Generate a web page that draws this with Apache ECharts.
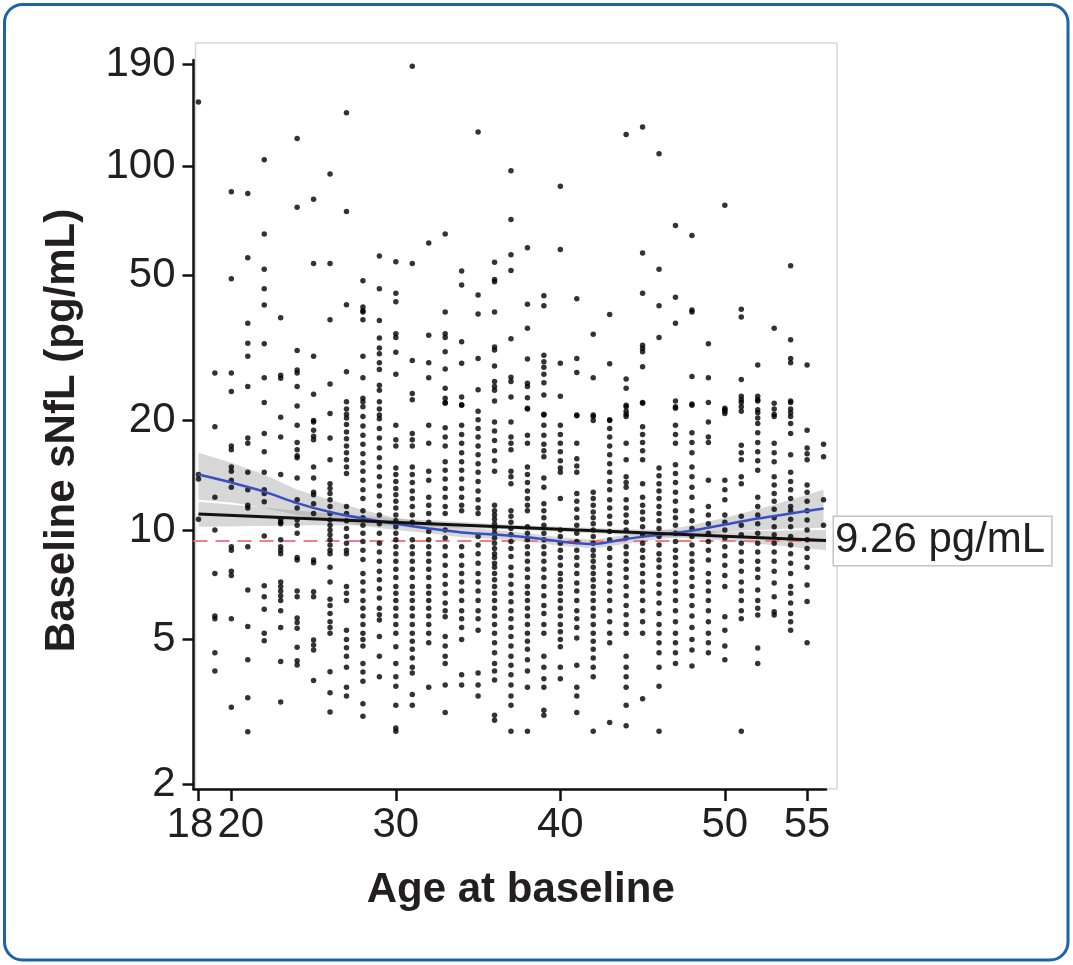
<!DOCTYPE html>
<html>
<head>
<meta charset="utf-8">
<script src="https://cdn.jsdelivr.net/npm/echarts@6/dist/echarts.min.js"></script>
<style>html,body{margin:0;padding:0;background:#fff;}#c{width:1073px;height:965px;}</style>
</head>
<body>
<div id="c"></div>
<script>
// ---- data (sNfL in pg/mL by integer age at baseline) ----
const age18 = [150, 14.2, 13.8, 10.7];
const age19 = [27, 19.2, 12.3, 10.0, 7.6, 5.8, 5.7, 4.6, 4.1];
const age20 = [85, 49, 27, 24, 17, 16.6, 14.9, 14.5, 13.7, 13.1, 9.0, 8.8, 7.7, 7.5, 5.7, 3.26];
const age21 = [84, 56, 37, 32.6, 30, 24.8, 17.9, 17.3, 14.4, 12.9, 11.7, 11.5, 9.0, 6.84, 5.43, 4.4, 3.46, 2.79];
const age22 = [104, 65, 52, 46, 41.5, 32.5, 26.2, 22.4, 18.4, 16.4, 14.4, 12.9, 12.6, 11.96, 9.63, 7.03, 6.56, 6.06, 5.2, 4.96];
const age23 = [38.3, 26.6, 26.1, 20.4, 18.0, 14.2, 10.7, 10.5, 10.4, 9.4, 9.0, 8.8, 8.6, 7.2, 7.0, 6.8, 6.6, 6.4, 6.0, 5.4, 4.35, 3.37];
const age24 = [119, 77, 31.1, 27.5, 27.0, 24.8, 21.9, 19.4, 17.4, 16.6, 16.0, 15.8, 13.9, 12.1, 11.5, 10.65, 10.3, 9.8, 8.4, 8.27, 6.8, 6.56, 5.73, 5.57, 5.37, 4.76, 4.37, 4.26];
const age25 = [81, 54, 30, 23.6, 20.0, 19.8, 18.8, 18.1, 17.7, 14.9, 13.9, 12.7, 12.5, 11.8, 11.1, 8.27, 8.13, 6.77, 6.56, 4.99, 4.83, 4.68, 3.86];
const age26 = [95, 54, 37.8, 25.2, 20.9, 17.9, 15.6, 13.4, 13.0, 12.6, 12.1, 11.6, 11.1, 10.65, 10.3, 10.0, 9.7, 9.4, 9.1, 8.8, 8.6, 7.9, 7.2, 6.45, 6.2, 5.9, 5.6, 5.4, 5.2, 4.08, 3.57, 3.16];
const age27 = [140, 75, 41.6, 27.2, 22.5, 21.5, 20.8, 20.3, 19.5, 18.6, 17.8, 17.0, 16.3, 15.6, 14.9, 14.3, 11.6, 11.1, 10.6, 10.1, 9.6, 9.2, 8.8, 8.6, 7.0, 6.7, 6.4, 5.3, 5.0, 4.75, 4.5, 4.2, 3.7, 3.5];
const age28 = [48.4, 41, 40, 39.7, 37.8, 30, 26.2, 23, 22.5, 21.8, 20.5, 19.3, 18.2, 17.2, 16.2, 15.3, 14.5, 13.7, 12.9, 12.2, 11.3, 10.8, 10.3, 9.8, 9.3, 8.8, 8.3, 7.6, 7.2, 6.8, 6.4, 6.1, 5.8, 5.5, 5.2, 5.0, 4.8, 4.3, 4.07, 3.84, 3.33, 3.08];
const age29 = [56.6, 46, 37.6, 33.7, 31.6, 30.5, 28.8, 27.6, 25, 24.2, 22.5, 20.7, 21.5, 20.2, 19.0, 17.9, 16.8, 15.8, 14.9, 14.0, 13.2, 12.4, 11.7, 11.0, 10.4, 9.8, 9.2, 8.7, 8.2, 7.7, 7.3, 6.9, 6.5, 6.1, 5.85, 5.66, 5.1, 4.5, 3.95];
const age30 = [54.6, 44.7, 42.4, 34.6, 33.8, 30.8, 26.8, 19.4, 17.7, 17.0, 14.8, 14.2, 13.6, 13.0, 12.5, 12.0, 11.5, 11.0, 10.6, 10.2, 9.8, 9.4, 9.0, 8.6, 8.2, 7.8, 7.4, 7.0, 6.7, 6.4, 6.1, 5.8, 5.5, 5.2, 4.78, 4.3, 3.95, 3.72, 3.3, 2.86, 2.8];
const age31 = [188, 54, 29.2, 23.7, 22.8, 18.4, 17.7, 17.0, 14.9, 14.2, 13.5, 12.8, 12.2, 11.6, 11.0, 10.5, 9.4, 9.0, 8.6, 8.2, 7.8, 7.4, 7.0, 6.7, 6.4, 6.1, 5.8, 5.5, 5.2, 4.95, 4.7, 4.45, 4.2, 4.05, 3.53, 3.3];
const age32 = [61.4, 34.3, 28.8, 26.2, 19.4, 17.3, 14.5, 13.7, 12.3, 11.7, 11.1, 10.5, 9.9, 9.4, 9.0, 8.6, 8.2, 7.8, 7.4, 7.0, 6.7, 6.4, 6.1, 5.8, 5.5, 5.2, 4.9, 3.7];
const age33 = [65, 39.7, 34.6, 33.8, 30.9, 27.7, 24.5, 23, 22.4, 22.3, 19.1, 18.0, 17.0, 15.4, 14.6, 13.8, 13.0, 12.3, 11.6, 11.1, 10.0, 9.5, 9.0, 8.5, 8.0, 7.5, 7.1, 6.7, 6.3, 6.0, 5.78, 5.1, 4.8, 4.5, 4.3, 3.75, 3.15];
const age34 = [51.5, 47.1, 32.9, 28.7, 23.2, 22.1, 22, 19.4, 18.3, 17.3, 16.3, 15.4, 14.6, 13.8, 13.0, 12.3, 11.7, 11.3, 9.0, 8.5, 8.0, 7.6, 7.2, 6.8, 6.4, 6.0, 5.7, 5.4, 5.0, 4.0, 3.75];
const age35 = [124, 44.2, 39.2, 29.6, 24.3, 21.2, 20.1, 19.0, 18.0, 17.0, 16.1, 15.2, 14.4, 13.6, 12.8, 12.1, 11.5, 11.1, 9.6, 9.1, 8.6, 8.1, 7.6, 7.2, 6.8, 6.4, 6.0, 5.7, 5.3, 4.05, 3.75, 3.5];
const age36 = [54.4, 48.8, 48.1, 39.7, 31.8, 31.2, 28.2, 25.6, 24.8, 24.2, 22.6, 19.8, 18.7, 17.6, 16.5, 15.5, 14.5, 11.7, 11.3, 11.0, 10.7, 10.4, 10.1, 9.8, 9.5, 9.2, 8.9, 8.6, 8.4, 8.1, 7.9, 7.6, 7.3, 7.0, 6.7, 6.4, 6.1, 5.8, 5.5, 5.2, 4.9, 4.6, 4.3, 4.1, 3.87, 3.1, 3.0];
const age37 = [97, 71.3, 57, 51.6, 33.5, 26.3, 25.6, 23.2, 19.8, 18.0, 17.3, 16.6, 14.5, 14.0, 13.4, 11.3, 10.9, 10.5, 10.1, 9.7, 9.3, 8.9, 8.45, 7.9, 7.5, 7.1, 6.7, 6.35, 6.0, 5.7, 5.4, 5.1, 4.8, 4.5, 4.25, 4.0, 3.75, 3.5, 3.3, 2.8];
const age38 = [59.6, 41.7, 35.8, 29.5, 25.3, 24.8, 23.1, 21.5, 21.6, 18.2, 17.3, 14.9, 14.2, 13.5, 12.8, 12.2, 11.7, 11.3, 10.2, 9.8, 9.4, 9.0, 8.6, 8.2, 7.8, 7.4, 7.0, 6.7, 6.4, 6.1, 5.8, 5.5, 5.2, 4.95, 4.7, 4.4, 4.1, 3.7, 2.8];
const age39 = [44, 41.3, 30.2, 29, 28, 26.8, 25.4, 23.5, 20.8, 20.7, 19.4, 18.2, 17.2, 16.5, 15.9, 13.9, 13.1, 11.8, 11.3, 10.8, 10.3, 9.8, 9.4, 9.0, 8.6, 8.2, 7.8, 7.4, 7.0, 6.6, 6.2, 5.9, 5.5, 5.2, 4.5, 4.2, 3.9, 3.7, 3.2, 3.1];
const age40 = [88, 59, 28.7, 23.3, 19.4, 18.3, 17.3, 16.4, 15.5, 14.8, 14.4, 12.2, 10.0, 9.6, 9.2, 8.8, 8.4, 8.0, 7.6, 7.3, 7.0, 6.7, 6.4, 6.1, 5.8, 5.5, 5.25, 5.0, 4.78, 4.2, 3.9];
const age41 = [43.2, 29.6, 27.1, 20.6, 20.7, 17.3, 15.7, 15.0, 14.4, 12.6, 12.0, 11.4, 10.8, 10.3, 9.8, 9.3, 8.8, 8.4, 8.0, 7.6, 7.15, 6.8, 6.4, 6.0, 5.7, 5.4, 5.05, 4.25, 3.7, 3.5, 3.15];
const age42 = [34.5, 26.2, 20.5, 20.7, 20.0, 12.7, 12.2, 11.7, 11.2, 10.8, 10.4, 10.0, 9.6, 9.2, 8.8, 8.5, 8.2, 7.9, 7.6, 7.3, 7.0, 6.7, 6.4, 6.1, 5.8, 5.5, 5.2, 4.95, 4.7, 4.45, 4.2, 3.95, 2.8];
const age43 = [39.1, 28.6, 20.1, 20.0, 19.0, 18.0, 17.0, 16.1, 15.2, 14.4, 13.6, 12.9, 12.1, 11.5, 10.9, 10.4, 9.9, 9.4, 8.9, 8.4, 8.0, 7.6, 7.2, 6.8, 6.4, 6.0, 5.6, 5.2, 4.9, 2.96];
const age44 = [122, 26, 24.5, 21.8, 20.8, 22, 21.2, 20.5, 17.3, 15.6, 14.0, 13.5, 13.1, 12.1, 11.5, 11.0, 10.5, 10.0, 9.5, 9.0, 8.6, 8.2, 7.8, 7.4, 7.0, 6.6, 6.2, 5.85, 5.5, 5.2, 4.5, 4.2, 3.95, 3.7, 3.3, 2.9];
const age45 = [128, 57.7, 44.7, 32.2, 31.5, 30.9, 28.1, 22.4, 22.3, 19.2, 18.3, 17.4, 16.5, 15.6, 13.4, 12.3, 11.7, 11.2, 10.7, 10.2, 9.7, 9.2, 8.8, 8.4, 8.0, 7.6, 7.2, 6.8, 6.4, 6.0, 5.6, 5.2, 3.44];
const age46 = [108, 52, 41.3, 33.8, 14.8, 14.1, 13.4, 12.8, 12.2, 11.6, 11.1, 10.6, 10.1, 9.6, 9.1, 8.6, 8.27, 7.9, 7.5, 7.1, 6.7, 6.3, 5.9, 5.5, 5.2, 4.9, 4.6, 4.2, 3.72, 2.8];
const age47 = [68.6, 43.6, 37, 22.6, 21.6, 21.8, 19.4, 18.3, 17.3, 15.1, 14.3, 13.5, 12.7, 12.0, 11.3, 10.8, 10.3, 9.8, 9.3, 8.8, 8.4, 8.0, 7.6, 7.2, 6.8, 6.4, 6.0, 5.6, 5.2, 4.9, 4.6, 4.3];
const age48 = [64.4, 40.2, 39.7, 26.4, 22, 22.2, 18.5, 17.4, 16.3, 14.9, 14.0, 13.1, 12.3, 11.3, 10.6, 10.1, 9.6, 9.1, 8.6, 8.2, 7.8, 7.4, 7.0, 6.6, 6.2, 5.8, 5.4, 5.0, 4.68, 4.23];
const age49 = [32.5, 26.2, 22.4, 19.8, 18.0, 17.4, 13.7, 11.6, 11.0, 10.4, 9.8, 9.3, 8.8, 8.27, 7.6, 7.2, 6.8, 6.4, 6.0, 5.6, 5.2, 4.9, 4.6];
const age50 = [78, 21.4, 20.9, 21.6, 21.2, 13.7, 12.9, 12.1, 11.0, 10.5, 10.0, 9.5, 9.0, 8.5, 8.0, 7.5, 7.0, 5.78, 5.3, 4.8, 4.4];
const age51 = [40.4, 38.5, 25.9, 23.3, 22.4, 21.2, 22.8, 21.8, 17.1, 16.3, 15.6, 14.0, 13.4, 10.9, 10.3, 9.7, 9.2, 8.7, 8.2, 7.7, 7.2, 6.8, 6.4, 6.0, 5.7, 2.8];
const age52 = [28.4, 23.3, 22.8, 21.0, 22.6, 21.4, 20.3, 19.6, 18.5, 17.4, 16.4, 15.5, 14.6, 12.3, 11.6, 11.0, 10.4, 9.8, 9.2, 8.7, 8.2, 7.8, 7.4, 6.84, 6.4, 6.1, 5.84, 4.74, 4.3];
const age53 = [35.8, 22.3, 20.5, 21.5, 20.8, 17.3, 16.3, 15.4, 14.0, 13.3, 12.6, 12.0, 11.4, 10.8, 10.2, 9.7, 9.2, 8.7, 8.2, 7.7, 7.15, 6.56, 5.96, 5.84];
const age54 = [53.2, 33.3, 29.6, 28.8, 22.6, 21.5, 20.5, 22.4, 21.0, 19.6, 18.4, 16.1, 14.4, 13.6, 12.9, 12.2, 11.6, 11.3, 10.7, 10.2, 9.6, 9.1, 8.6, 8.1, 7.6, 7.0, 6.7, 6.3, 5.9, 5.6, 5.3];
const age55 = [28.4, 18.8, 16.8, 16.2, 15.6, 13.3, 12.7, 12.0, 11.3, 10.65, 10.0, 9.4, 8.9, 8.4, 7.9, 7.06, 6.36, 4.9];
const age56 = [17.2, 15.9, 12.1, 10.3];

const columns = [
  [18, age18], [19, age19], [20, age20], [21, age21], [22, age22], [23, age23], [24, age24],
  [25, age25], [26, age26], [27, age27], [28, age28], [29, age29], [30, age30], [31, age31],
  [32, age32], [33, age33], [34, age34], [35, age35], [36, age36], [37, age37], [38, age38],
  [39, age39], [40, age40], [41, age41], [42, age42], [43, age43], [44, age44], [45, age45],
  [46, age46], [47, age47], [48, age48], [49, age49], [50, age50], [51, age51], [52, age52],
  [53, age53], [54, age54], [55, age55], [56, age56]
];

// loess smooth (blue) with confidence band
const smoothAges = [18, 20, 22, 24, 26, 28, 30, 32, 34, 36, 38, 40, 42, 44, 46, 48, 50, 52, 54, 56];
const smoothFit  = [14.2, 13.5, 12.75, 11.85, 11.2, 10.75, 10.4, 10.1, 9.85, 9.72, 9.55, 9.3, 9.15, 9.45, 9.7, 9.95, 10.35, 10.75, 11.1, 11.45];
const smoothHigh = [16.3, 15.3, 14.2, 12.9, 12.1, 11.35, 10.8, 10.45, 10.17, 10.0, 9.8, 9.55, 9.4, 9.7, 9.95, 10.3, 10.8, 11.4, 12.1, 12.9];
const smoothLow  = [12.1, 11.9, 11.5, 11.0, 10.6, 10.25, 10.0, 9.8, 9.55, 9.45, 9.3, 9.05, 8.9, 9.15, 9.45, 9.65, 9.9, 10.0, 10.1, 10.15];

// linear fit (black) with confidence band
const linAges = [18, 56.15];
const linFit  = [11.06, 9.36];
const linBandAges = [18, 25, 30, 37, 44, 50, 56.15];
const linHigh = [11.96, 11.2, 10.75, 10.33, 10.05, 9.9, 10.0];
const linLow  = [10.2, 10.3, 10.27, 10.03, 9.7, 9.35, 8.8];

const refValue = 9.26;
const refLabel = '9.26 pg/mL';

const xTicks = [18, 20, 30, 40, 50, 55];
const yTicks = [2, 5, 10, 20, 50, 100, 190];

// ---- build ----
const L = v => Math.log10(v);
const scatterData = [];
columns.forEach(([a, vals]) => vals.forEach(v => scatterData.push([a, L(v)])));

function bandSeries(ages, hi, lo) {
  return {
    type: 'custom',
    z: 1,
    silent: true,
    data: [0],
    renderItem: function (params, api) {
      const pts = [];
      for (let i = 0; i < ages.length; i++) pts.push(api.coord([ages[i], L(hi[i])]));
      for (let i = ages.length - 1; i >= 0; i--) pts.push(api.coord([ages[i], L(lo[i])]));
      return { type: 'polygon', shape: { points: pts }, style: { fill: 'rgba(150,150,150,0.38)', stroke: null } };
    }
  };
}

const FONT = '"Liberation Sans", Arial, Helvetica, sans-serif';
const chart = echarts.init(document.getElementById('c'), null, { renderer: 'canvas' });

chart.setOption({
  animation: false,
  backgroundColor: '#fff',
  grid: { left: 193.5, right: 247, top: 60, bottom: 176, outerBoundsMode: 'none', containLabel: false },
  xAxis: {
    type: 'value', min: 17.7, max: 56.15,
    name: 'Age at baseline', nameLocation: 'middle', nameGap: 80,
    nameTextStyle: { fontFamily: FONT, fontWeight: 'bold', fontSize: 42, color: '#231f20', padding: [0, 0, 0, 22] },
    axisLine: { show: true, onZero: false, lineStyle: { color: '#111', width: 2.5 } },
    axisTick: { show: true, length: 12, lineStyle: { color: '#111', width: 2.5 }, customValues: xTicks },
    axisLabel: {
      customValues: xTicks, margin: 15, color: '#231f20', fontFamily: FONT, fontSize: 42,
      formatter: v => v === 18 ? '{a|18}' : (v === 20 ? '{b|20}' : '{c|' + v + '}'),
      rich: {
        a: { fontFamily: FONT, fontSize: 42, color: '#231f20', padding: [0, 17, 0, 0] },
        b: { fontFamily: FONT, fontSize: 42, color: '#231f20', padding: [0, 0, 0, 19] },
        c: { fontFamily: FONT, fontSize: 42, color: '#231f20' }
      }
    },
    splitLine: { show: false }
  },
  yAxis: {
    type: 'value', min: L(1.943), max: L(195.5),
    name: 'Baseline sNfL (pg/mL)', nameLocation: 'middle', nameGap: 110, nameRotate: 90,
    nameTextStyle: { fontFamily: FONT, fontWeight: 'bold', fontSize: 42, color: '#231f20', padding: [0, 12, 0, 0] },
    axisLine: { show: true, onZero: false, lineStyle: { color: '#111', width: 2.5 } },
    axisTick: { show: true, length: 11, lineStyle: { color: '#111', width: 2.5 }, customValues: yTicks.map(L) },
    axisLabel: {
      customValues: yTicks.map(L), margin: 18, color: '#231f20', fontFamily: FONT, fontSize: 42,
      formatter: v => String(Math.round(Math.pow(10, v)))
    },
    splitLine: { show: false }
  },
  graphic: [
    { type: 'rect', z: -10, silent: true, shape: { x: 195.5, y: 43, width: 641.5, height: 746 },
      style: { fill: null, stroke: '#d6d6d6', lineWidth: 1.5 } },
    { type: 'rect', z: 100, silent: true, shape: { x: 4.5, y: 4.5, width: 1063.5, height: 955.5, r: 18 },
      style: { fill: null, stroke: '#1d63a9', lineWidth: 3 } }
  ],
  series: [
    bandSeries(smoothAges, smoothHigh, smoothLow),
    bandSeries(linBandAges, linHigh, linLow),
    {
      type: 'scatter', z: 3, silent: true, symbol: 'circle', symbolSize: 5.5,
      itemStyle: { color: '#000' }, data: scatterData
    },
    {
      type: 'line', z: 4, silent: true, symbol: 'none', smooth: 0.3,
      lineStyle: { color: '#3a4fc4', width: 2.5 },
      data: smoothAges.map((a, i) => [a, L(smoothFit[i])])
    },
    {
      type: 'line', z: 5, silent: true, symbol: 'none',
      lineStyle: { color: '#111', width: 3 },
      data: linAges.map((a, i) => [a, L(linFit[i])]),
      markLine: {
        silent: true, symbol: 'none', z: 2,
        lineStyle: { color: '#f07f7f', width: 2, type: [14, 8] },
        label: {
          show: true, position: 'end', distance: 8, formatter: refLabel,
          fontFamily: FONT, fontSize: 42, color: '#231f20',
          backgroundColor: '#fff', borderColor: '#c4c4c4', borderWidth: 1.5,
          padding: [3, 6, 3, 1]
        },
        data: [{ yAxis: L(refValue) }]
      }
    }
  ]
});
</script>
</body>
</html>
